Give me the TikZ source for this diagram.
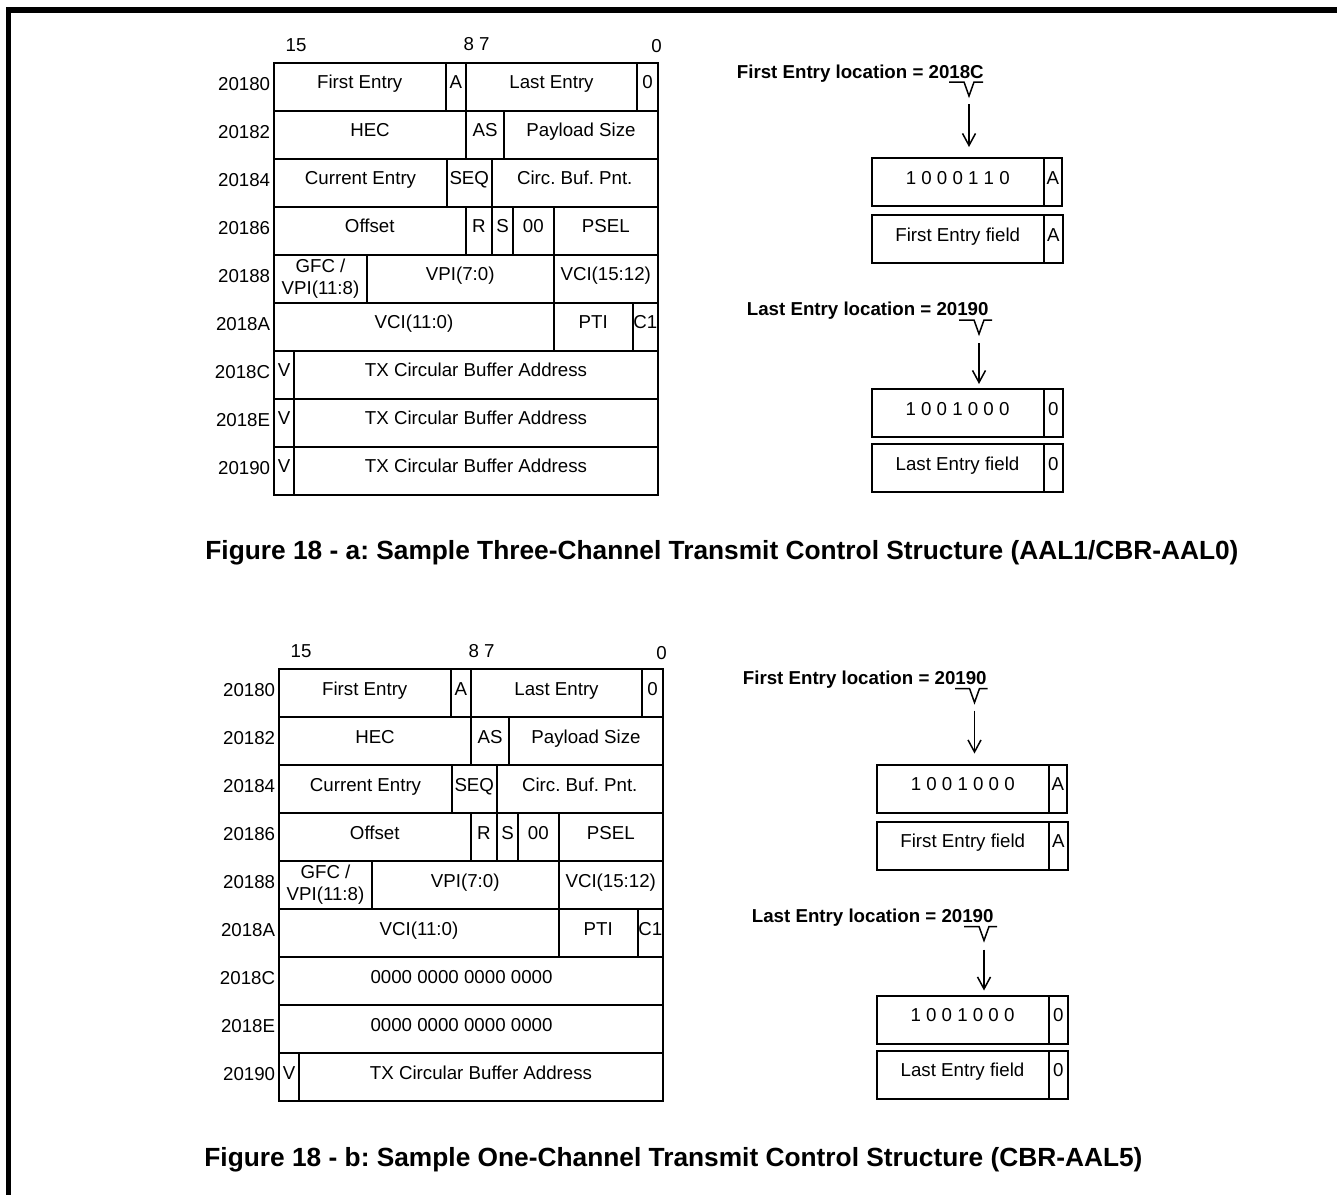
\documentclass[tikz,border=0pt]{standalone}
\usepackage{fontspec}
\setmainfont{Liberation Sans}
\usetikzlibrary{arrows.meta}
\frenchspacing
\newcommand{\cellfont}{\fontsize{9.35pt}{11pt}\selectfont}
\newcommand{\locfont}{\fontsize{9.35pt}{11pt}\selectfont\bfseries}
\newcommand{\captfont}{\fontsize{13.15pt}{16pt}\selectfont\bfseries}
\begin{document}
\begin{tikzpicture}[x=0.5pt, y=-0.5pt,
  cell/.style={draw, rectangle, anchor=north west, line width=1pt, minimum height=24pt, inner sep=0pt, outer sep=0pt, text height=6.75pt, text depth=4.5pt, font=\cellfont},
  wd/.style={minimum width=#1*0.5pt},
  addr/.style={anchor=east, inner sep=0pt, text height=6.75pt, text depth=3pt, font=\cellfont},
  bit/.style={inner sep=0pt, font=\cellfont},
  loc/.style={anchor=west, inner sep=0pt, text height=6.75pt, text depth=2pt, font=\locfont},
  capt/.style={anchor=west, inner sep=0pt, font=\captfont},
  brk/.style={line width=0.75pt},
  arr/.style={line width=0.75pt, -{Straight Barb[length=6pt,width=6.5pt]}}]
  \useasboundingbox (0,0) rectangle (1337,1194);
  \draw [line width=2.75pt] (8.5,1200) -- (8.5,10) -- (1345,10);
%
% Figure 18 - a
%
    \node [bit] (a15) at (296,45) {15}; \node [bit] (a87) at (476.5,44.5) {8 7}; \node [bit] (a0) at (656.5,46.5) {0};
    \node (aFE) at (274,62.5) [cell, wd=171.5] {First Entry}; \node (aA) at (445.5,62.5) [cell, wd=20.5] {A};
      \node (aLE) at (466,62.5) [cell, wd=171] {Last Entry}; \node (aZ) at (637,62.5) [cell, wd=21] {0};
    \node (aHEC) at (274,110.5) [cell, wd=192] {HEC}; \node (aAS) at (466,110.5) [cell, wd=38] {AS}; \node (aPS) at (504,110.5) [cell, wd=154] {Payload Size};
    \node (aCE) at (274,158.5) [cell, wd=173] {Current Entry}; \node (aSEQ) at (447,158.5) [cell, wd=44.5] {SEQ}; \node (aCBP) at (491.5,158.5) [cell, wd=166.5] {Circ. Buf. Pnt.};
    \node (aOff) at (274,206.5) [cell, wd=191.5] {Offset}; \node (aR) at (465.5,206.5) [cell, wd=26.5] {R}; \node (aS) at (492,206.5) [cell, wd=21] {S};
      \node (aOO) at (513,206.5) [cell, wd=40.5] {00}; \node (aPSEL) at (553.5,206.5) [cell, wd=104.5] {PSEL};
    \node (aGFC) at (274,254.5) [cell, wd=93, align=center, text height=, text depth=] {GFC /\\VPI(11:8)};
      \node (aVPI) at (367,254.5) [cell, wd=186.5] {VPI(7:0)}; \node (aVCIh) at (553.5,254.5) [cell, wd=104.5] {VCI(15:12)};
    \node (aVCIl) at (274,302.5) [cell, wd=280] {VCI(11:0)}; \node (aPTI) at (554,302.5) [cell, wd=78.5] {PTI}; \node (aC1) at (632.5,302.5) [cell, wd=25.5] {C1};
    \node (aV1) at (274,350.5) [cell, wd=20] {V}; \node (aTX1) at (294,350.5) [cell, wd=364] {TX Circular Buffer Address};
    \node (aV2) at (274,398.5) [cell, wd=20] {V}; \node (aTX2) at (294,398.5) [cell, wd=364] {TX Circular Buffer Address};
    \node (aV3) at (274,446.5) [cell, wd=20] {V}; \node (aTX3) at (294,446.5) [cell, wd=364] {TX Circular Buffer Address};
%
    \node [addr] (aL0) at (270.5,86.5) {20180}; \node [addr] (aL2) at (270.5,134.5) {20182}; \node [addr] (aL4) at (270.5,182.5) {20184};
    \node [addr] (aL6) at (270.5,230.5) {20186}; \node [addr] (aL8) at (270.5,278.5) {20188}; \node [addr] (aLA) at (270.5,326.5) {2018A};
    \node [addr] (aLC) at (270.5,374.5) {2018C}; \node [addr] (aLE2) at (270.5,422.5) {2018E}; \node [addr] (aL10) at (270.5,470.5) {20190};
%
    \node [loc] (aFloc) at (736.5,73.5) {First Entry location = 2018C};
    \coordinate (aFv) at (969,96); \coordinate (aFs) at (969,104); \coordinate (aFe) at (969,147);
    \draw [brk] (949,82) -- (964,82) -- (aFv) -- (974,82) -- (983,82);
    \draw [arr] (aFs) -- (aFe);
    \node (aFval) at (872,158) [cell, wd=171.5] {1 0 0 0 1 1 0}; \node (aFbit) at (1043.5,158) [cell, wd=18.5] {A};
    \node (aFfld) at (872,215) [cell, wd=171.5] {First Entry field}; \node (aFfbit) at (1043.5,215) [cell, wd=19.5] {A};
%
    \node [loc] (aLloc) at (746.5,311) {Last Entry location = 20190};
    \coordinate (aLv) at (979,334); \coordinate (aLs) at (979,343); \coordinate (aLe) at (979,384);
    \draw [brk] (959,320) -- (974,320) -- (aLv) -- (984,320) -- (992,320);
    \draw [arr] (aLs) -- (aLe);
    \node (aLval) at (871.5,389) [cell, wd=172] {1 0 0 1 0 0 0}; \node (aLbit) at (1043.5,389) [cell, wd=19.5] {0};
    \node (aLfld) at (871.5,444) [cell, wd=172] {Last Entry field}; \node (aLfbit) at (1043.5,444) [cell, wd=19.5] {0};
%
    \node [capt] (acap) at (205,553) {Figure 18 - a: Sample Three-Channel Transmit Control Structure (AAL1/CBR-AAL0)};
%
% Figure 18 - b
%
  \begin{scope}[shift={(5,606.5)}]
    \node [bit] (b15) at (296,45) {15}; \node [bit] (b87) at (476.5,44.5) {8 7}; \node [bit] (b0) at (656.5,46.5) {0};
    \node (bFE) at (274,62.5) [cell, wd=171.5] {First Entry}; \node (bA) at (445.5,62.5) [cell, wd=20.5] {A};
      \node (bLE) at (466,62.5) [cell, wd=171] {Last Entry}; \node (bZ) at (637,62.5) [cell, wd=21] {0};
    \node (bHEC) at (274,110.5) [cell, wd=192] {HEC}; \node (bAS) at (466,110.5) [cell, wd=38] {AS}; \node (bPS) at (504,110.5) [cell, wd=154] {Payload Size};
    \node (bCE) at (274,158.5) [cell, wd=173] {Current Entry}; \node (bSEQ) at (447,158.5) [cell, wd=44.5] {SEQ}; \node (bCBP) at (491.5,158.5) [cell, wd=166.5] {Circ. Buf. Pnt.};
    \node (bOff) at (274,206.5) [cell, wd=191.5] {Offset}; \node (bR) at (465.5,206.5) [cell, wd=26.5] {R}; \node (bS) at (492,206.5) [cell, wd=21] {S};
      \node (bOO) at (513,206.5) [cell, wd=40.5] {00}; \node (bPSEL) at (553.5,206.5) [cell, wd=104.5] {PSEL};
    \node (bGFC) at (274,254.5) [cell, wd=93, align=center, text height=, text depth=] {GFC /\\VPI(11:8)};
      \node (bVPI) at (367,254.5) [cell, wd=186.5] {VPI(7:0)}; \node (bVCIh) at (553.5,254.5) [cell, wd=104.5] {VCI(15:12)};
    \node (bVCIl) at (274,302.5) [cell, wd=280] {VCI(11:0)}; \node (bPTI) at (554,302.5) [cell, wd=78.5] {PTI}; \node (bC1) at (632.5,302.5) [cell, wd=25.5] {C1};
    \node (bNul1) at (274,350.5) [cell, wd=384] {0000 0000 0000 0000\hspace*{9.5pt}};
    \node (bNul2) at (274,398.5) [cell, wd=384] {0000 0000 0000 0000\hspace*{9.5pt}};
    \node (bV3) at (274,446.5) [cell, wd=20] {V}; \node (bTX3) at (294,446.5) [cell, wd=364] {TX Circular Buffer Address};
%
    \node [addr] (bL0) at (270.5,86.5) {20180}; \node [addr] (bL2) at (270.5,134.5) {20182}; \node [addr] (bL4) at (270.5,182.5) {20184};
    \node [addr] (bL6) at (270.5,230.5) {20186}; \node [addr] (bL8) at (270.5,278.5) {20188}; \node [addr] (bLA) at (270.5,326.5) {2018A};
    \node [addr] (bLC) at (270.5,374.5) {2018C}; \node [addr] (bLE2) at (270.5,422.5) {2018E}; \node [addr] (bL10) at (270.5,470.5) {20190};
%
    \node [loc] (bFloc) at (737.5,73.5) {First Entry location = 20190};
    \coordinate (bFv) at (969.5,96); \coordinate (bFs) at (969.5,104); \coordinate (bFe) at (969.5,147);
    \draw [brk] (950,82) -- (964.5,82) -- (bFv) -- (974.5,82) -- (982.5,82);
    \draw [arr] (bFs) -- (bFe);
    \node (bFval) at (872,158) [cell, wd=171.5] {1 0 0 1 0 0 0}; \node (bFbit) at (1043.5,158) [cell, wd=18.5] {A};
    \node (bFfld) at (872,215) [cell, wd=171.5] {First Entry field}; \node (bFfbit) at (1043.5,215) [cell, wd=19.5] {A};
%
    \node [loc] (bLloc) at (746.5,311) {Last Entry location = 20190};
    \coordinate (bLv) at (979,334); \coordinate (bLs) at (979,343); \coordinate (bLe) at (979,384);
    \draw [brk] (959,320) -- (974,320) -- (bLv) -- (984,320) -- (992,320);
    \draw [arr] (bLs) -- (bLe);
    \node (bLval) at (871.5,389) [cell, wd=172] {1 0 0 1 0 0 0}; \node (bLbit) at (1043.5,389) [cell, wd=19.5] {0};
    \node (bLfld) at (871.5,444) [cell, wd=172] {Last Entry field}; \node (bLfbit) at (1043.5,444) [cell, wd=19.5] {0};
%
    \node [capt] (bcap) at (199,553) {Figure 18 - b: Sample One-Channel Transmit Control Structure (CBR-AAL5)};
  \end{scope}
\end{tikzpicture}
\end{document}
